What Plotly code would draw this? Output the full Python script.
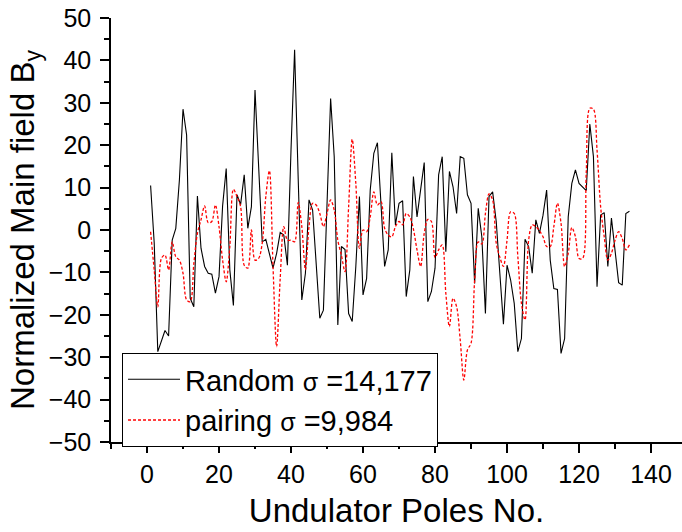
import plotly.graph_objects as go

poles = list(range(1, 135))

random_vals = [10.5, -3, -28.7, -26.3, -23.7, -25, -2.4, 0.4, 11.8, 28.5,
               22.4, -16.1, -18.1, 8, -4.3, -8.6, -10.2, -10.4, -14.9, -11,
               5.7, 14.5, -9.4, -17.8, 8.3, 6, 13, 0.4, 5.5, 33,
               15, -2.8, -2.2, -5.5, -9, -5.5, -0.6, -1.2, -8.3, 18.9,
               42.5, 12, -16.5, -10.2, 7.1, 4.7, -8.6, -20.8, -18.9, 6.3,
               31, 17.3, -22.4, -3.9, -4.6, -19.7, -21.6, -8.6, 7.9, -15.3,
               -11.4, 9.4, 18.1, 20.6, 5.5, -8.6, -4.7, 18.2, 1.2, 6.3,
               6.9, -15.7, -9.4, 12.6, 3.1, 9, 15.9, -16.9, -14.5, -9,
               13, 17.3, -5.1, 13.8, 10.2, 3.9, 17.3, 16.9, 8.3, 6.3,
               -12.6, 5.1, -1.6, -19.7, 7.9, 9, 2, -10.2, -22.2, -8.3,
               -11.8, -17.3, -28.7, -25.6, -2.2, -3.9, -10.2, 2.4, -0.8, 3.5,
               9.4, -7.1, -13.8, -14, -29.1, -25.6, 3.1, 11, 14.2, 11,
               10.2, 9.3, 25, 17.3, -13.4, 3.5, 4.1, -8.6, 2.8, -4.7,
               -12.4, -13, 3.9, 4.4]

pairing_vals = [-0.4, -9.4, -18.1, -6.7, -5.9, -9.4, -2.8, -6.3, -7.1, -10.2,
                -16.5, -16.9, -8, -0.8, 2.4, 5.7, 1.7, 2, 5.9, 0.8,
                -7.1, -12.2, -3.9, 9.6, 7.9, 5.5, -8.3, -9, 0, -7.1,
                -6.7, -3.1, 7.9, 14, -8.6, -27.5, -11.4, 0.8, -2.4, -2.4,
                -2.8, 6.5, 0.8, -9.4, 0.8, 6.3, 5.9, 3.9, 0.8, 3.9,
                7.1, 4.7, -2.4, -6, -9.8, 5.5, 21.4, 11, -4.3, 0,
                -0.4, 3.1, 9, 5.9, 6.7, 0.4, -1.2, -1.6, 0.8, 2,
                1.2, 3.9, 3.1, 0.2, -4.7, -8.6, -0.8, 2.5, 2, -6.5,
                -4.7, -3.5, -14.9, -22.8, -16.1, -18.1, -25.9, -35.4, -28.3, -26.7,
                -11.8, -2.8, -3.3, 3.9, 8.5, 7.1, -3.1, -6.4, -8.6, -2.4,
                4.3, 3.9, -6.3, -17.3, -21.2, -2.4, 1.2, 0.8, -0.2, -1.6,
                -3.9, -3.9, 0.8, 6.3, 1.6, -8.6, -5.5, 0.6, -1.6, -6.7,
                -6.7, 13.4, 28.7, 28.5, 18.9, 5.5, -1.6, -7.1, -5.5, -2.4,
                -0.4, -2, -4.7, -3.5]

FONT = "Liberation Sans, Arial, sans-serif"

fig = go.Figure()
fig.add_trace(go.Scatter(
    x=poles, y=random_vals, mode="lines",
    name='Random <span style="font-size:25px">σ</span> =14,177',
    line=dict(color="black", width=1.1),
))
fig.add_trace(go.Scatter(
    x=poles, y=pairing_vals, mode="lines",
    name='pairing <span style="font-size:25px">σ</span> =9,984',
    line=dict(color="#ff0000", width=1.3, dash="3px,2px", shape="spline", smoothing=0.9),
))

fig.update_layout(
    width=682, height=532,
    margin=dict(l=111, r=0, t=18, b=90),
    paper_bgcolor="white", plot_bgcolor="white",
    font=dict(family=FONT, color="black"),
    showlegend=True,
    legend=dict(
        x=0.0193, y=0.21, xanchor="left", yanchor="top",
        bordercolor="black", borderwidth=1, bgcolor="white",
        font=dict(size=29, family=FONT),
        itemwidth=52, tracegroupgap=0,
    ),
)

fig.update_xaxes(
    range=[-10, 148.6], showgrid=False, zeroline=False,
    showline=True, linecolor="black", linewidth=1.5,
    ticks="outside", ticklen=9, tickwidth=1.5, tickcolor="black",
    tick0=0, dtick=20,
    minor=dict(ticks="outside", ticklen=5, tickwidth=1.5, tickcolor="black", dtick=10, tick0=0),
    tickfont=dict(size=25, family=FONT),
    title=dict(text="Undulator Poles No.", font=dict(size=33, family=FONT), standoff=12),
)
fig.update_yaxes(
    range=[-50, 50], showgrid=False, zeroline=False,
    showline=True, linecolor="black", linewidth=1.5,
    ticks="outside", ticklen=9, tickwidth=1.5, tickcolor="black",
    tick0=0, dtick=10,
    minor=dict(ticks="outside", ticklen=5, tickwidth=1.5, tickcolor="black", dtick=5, tick0=0),
    tickfont=dict(size=25, family=FONT),
    ticklabelstandoff=4,
    title=dict(text="Normalized Main field B<sub>y</sub>", font=dict(size=33, family=FONT), standoff=4),
)

fig.write_html("out.html")
